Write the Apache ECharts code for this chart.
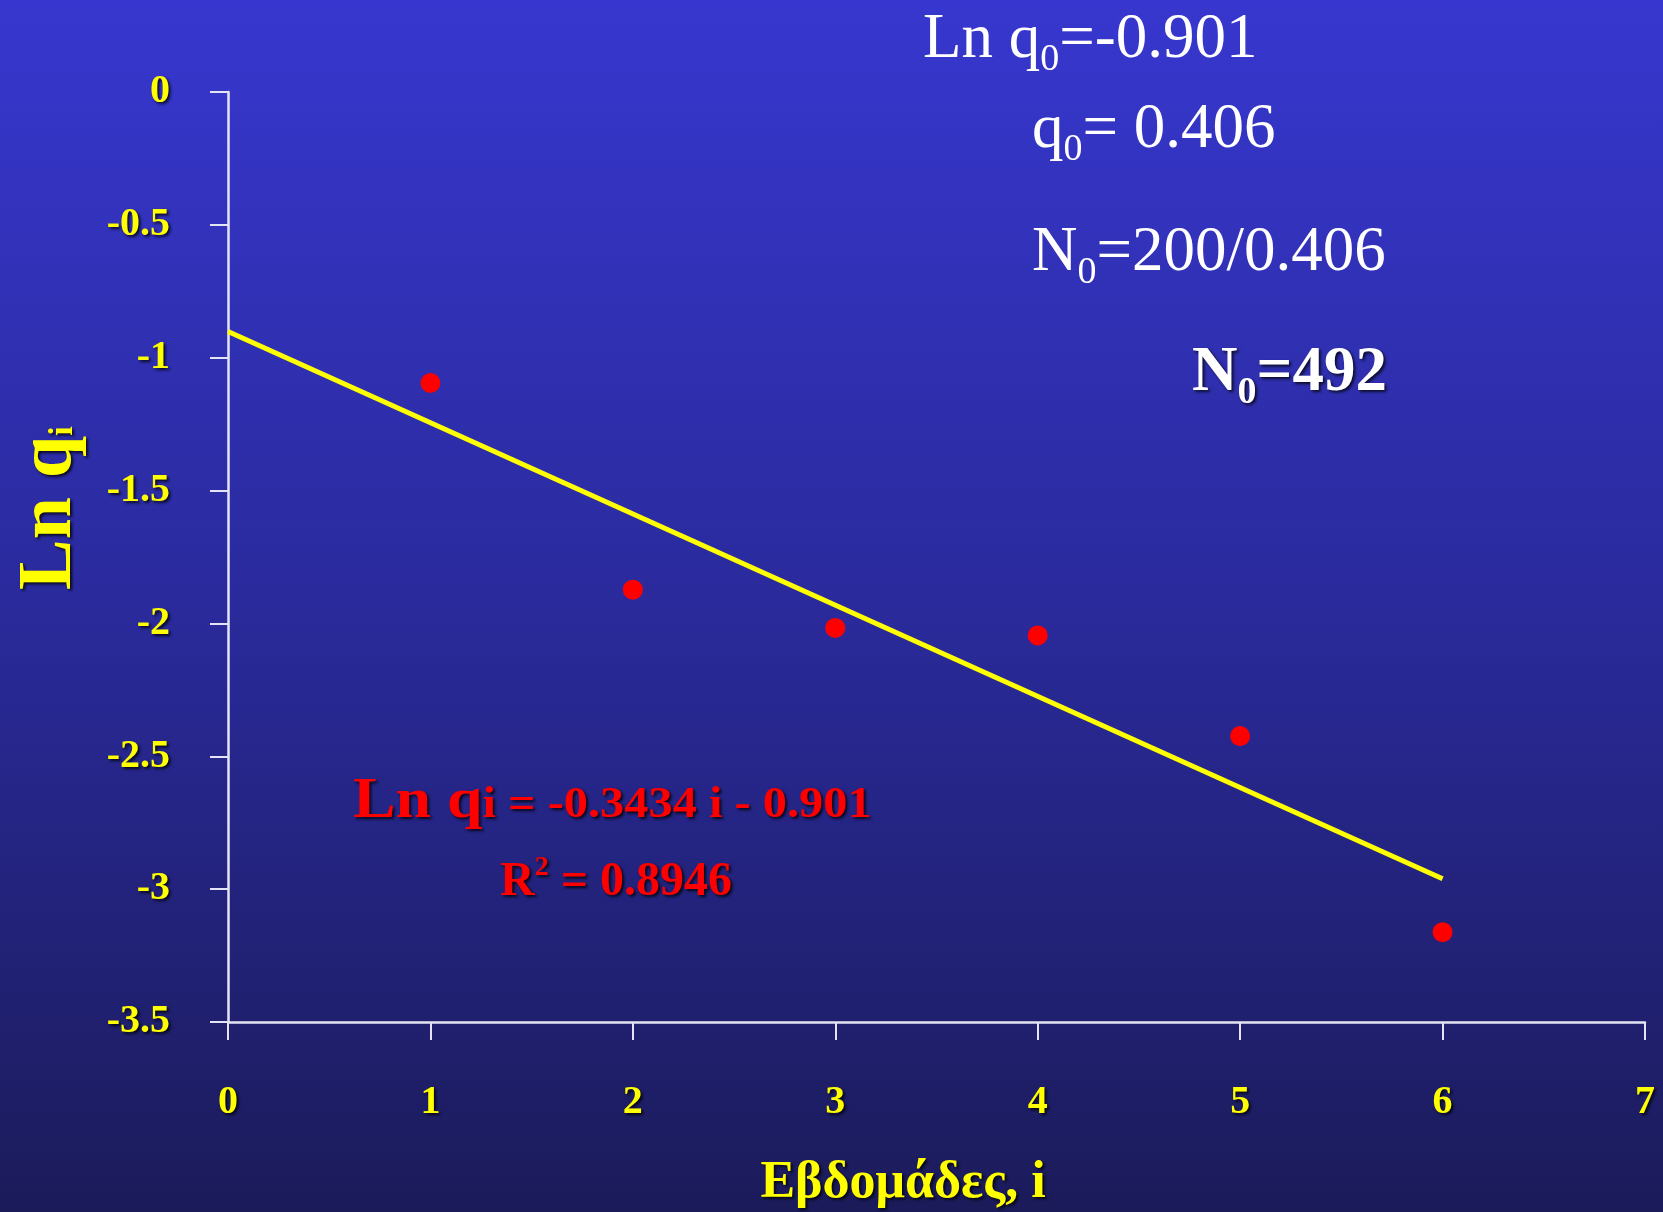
<!DOCTYPE html>
<html>
<head>
<meta charset="utf-8">
<script src="https://cdn.jsdelivr.net/npm/echarts@6/dist/echarts.min.js"></script>
<style>
html,body{margin:0;padding:0;background:#2a2aa0;}
#chart{width:1663px;height:1212px;}
</style>
</head>
<body>
<div id="chart"></div>
<script>
// ---- data ----
const weeks = [1, 2, 3, 4, 5, 6];
const lnQ = [-1.095, -1.873, -2.017, -2.045, -2.424, -3.162];
const trendX = [0, 6];
const trendY = [-0.901, -2.961];
const xTicks = ['0', '1', '2', '3', '4', '5', '6', '7'];
const yTicks = ['0', '-0.5', '-1', '-1.5', '-2', '-2.5', '-3', '-3.5'];

const FONT = '"Liberation Serif", "Times New Roman", serif';
const mctx = document.createElement('canvas').getContext('2d');
function fontStr(s, b) { return (b ? 'bold ' : '') + s + 'px ' + FONT; }
function tw(t, s, b) { mctx.font = fontStr(s, b); return mctx.measureText(t).width; }
function baseOff(s, b) {
  mctx.font = fontStr(s, b); mctx.textBaseline = 'middle';
  const m = mctx.measureText('H'); mctx.textBaseline = 'alphabetic';
  return m.actualBoundingBoxDescent;
}
// compose a line of text pieces (with sub/superscripts) starting at x, on a baseline
function compose(parts, x, baseline, common) {
  const out = [];
  let cx = x;
  const sx = common.scaleX || 1;
  parts.forEach(p => {
    const s = p.s, b = !!p.b;
    const el = {
      type: 'text',
      x: cx,
      y: baseline + (p.dy || 0) - baseOff(s, b),
      scaleX: sx,
      z: 100,
      style: Object.assign({
        text: p.t,
        font: fontStr(s, b),
        fill: p.c || common.fill,
        textAlign: 'left',
        textVerticalAlign: 'middle'
      }, common.shadow ? {
        textShadowColor: common.shadow, textShadowBlur: 3,
        textShadowOffsetX: 2, textShadowOffsetY: 2
      } : {})
    };
    out.push(el);
    cx += tw(p.t, s, b) * sx;
  });
  return out;
}
function composeWidth(parts, sx) {
  return parts.reduce((a, p) => a + tw(p.t, p.s, !!p.b), 0) * (sx || 1);
}

const graphics = [];
// top-right annotations
const M = 63, S = 38, SD = 13;
compose([{t: 'Ln q', s: M}, {t: '0', s: S, dy: SD}, {t: '=-0.901', s: M}], 923, 57, {fill: '#ffffff'}).forEach(e => graphics.push(e));
compose([{t: 'q', s: M}, {t: '0', s: S, dy: SD}, {t: '= 0.406', s: M}], 1032, 147, {fill: '#ffffff'}).forEach(e => graphics.push(e));
compose([{t: 'N', s: M}, {t: '0', s: S, dy: SD}, {t: '=200/0.406', s: M}], 1032, 270, {fill: '#ffffff'}).forEach(e => graphics.push(e));
compose([{t: 'N', s: M, b: 1}, {t: '0', s: S, b: 1, dy: SD}, {t: '=492', s: M, b: 1}], 1192, 390, {fill: '#ffffff', shadow: 'rgba(0,0,0,0.75)'}).forEach(e => graphics.push(e));

// regression equation (red)
const eq1 = [{t: 'Ln q', s: 58, b: 1}, {t: 'i = -0.3434 i - 0.901', s: 44, b: 1}];
compose(eq1, 353, 817, {fill: '#ff0000', shadow: 'rgba(0,0,0,0.8)', scaleX: 1.1}).forEach(e => graphics.push(e));
const eq2 = [{t: 'R', s: 48, b: 1}, {t: '2', s: 28, b: 1, dy: -20}, {t: ' = 0.8946', s: 48, b: 1}];
compose(eq2, 500, 895, {fill: '#ff0000', shadow: 'rgba(0,0,0,0.8)'}).forEach(e => graphics.push(e));

// x axis name
const xn = [{t: 'Εβδομάδες, i', s: 52, b: 1}];
compose(xn, 903 - composeWidth(xn) / 2, 1197, {fill: '#ffff00', shadow: 'rgba(0,0,0,0.8)'}).forEach(e => graphics.push(e));

// y axis name (rotated)
const yn = [{t: 'Ln q', s: 76, b: 1}, {t: 'i', s: 34, b: 1, dy: 2}];
graphics.push({
  type: 'group', x: 70, y: 590, rotation: Math.PI / 2, z: 100,
  children: compose(yn, 0, 0, {fill: '#ffff00', shadow: 'rgba(0,0,0,0.8)'})
});

const chart = echarts.init(document.getElementById('chart'), null, {renderer: 'canvas'});
const labelStyle = {
  color: '#ffff00', fontFamily: FONT, fontWeight: 'bold', fontSize: 40,
  textShadowColor: 'rgba(0,0,0,0.8)', textShadowBlur: 3, textShadowOffsetX: 2, textShadowOffsetY: 2
};
chart.setOption({
  animation: false,
  backgroundColor: {
    type: 'linear', x: 0, y: 0, x2: 0, y2: 1,
    colorStops: [
      {offset: 0, color: '#3737cf'},
      {offset: 0.5, color: '#2a2a9c'},
      {offset: 1, color: '#1b1b5a'}
    ]
  },
  grid: {left: 228, right: 18, top: 92, bottom: 190, containLabel: false},
  xAxis: {
    type: 'value', min: 0, max: 7, interval: 1,
    axisLine: {show: true, onZero: false, lineStyle: {color: '#e4e4f4', width: 2.5}},
    axisTick: {show: true, length: 18, lineStyle: {color: '#e4e4f4', width: 2}},
    splitLine: {show: false},
    axisLabel: Object.assign({margin: 61, formatter: v => xTicks[Math.round(v)]}, labelStyle)
  },
  yAxis: {
    type: 'value', min: -3.5, max: 0, interval: 0.5,
    axisLine: {show: true, onZero: false, lineStyle: {color: '#e4e4f4', width: 2.5}},
    axisTick: {show: true, length: 18, lineStyle: {color: '#e4e4f4', width: 2}},
    splitLine: {show: false},
    axisLabel: Object.assign({margin: 58, formatter: v => yTicks[Math.round(-v * 2)]}, labelStyle)
  },
  series: [
    {
      type: 'line', data: trendX.map((x, i) => [x, trendY[i]]),
      showSymbol: false, symbol: 'none',
      lineStyle: {color: '#ffff00', width: 5}, z: 2
    },
    {
      type: 'scatter', data: weeks.map((x, i) => [x, lnQ[i]]),
      symbol: 'circle', symbolSize: 20,
      itemStyle: {color: '#ff0000', opacity: 1}, z: 3
    }
  ],
  graphic: graphics
});
</script>
</body>
</html>
